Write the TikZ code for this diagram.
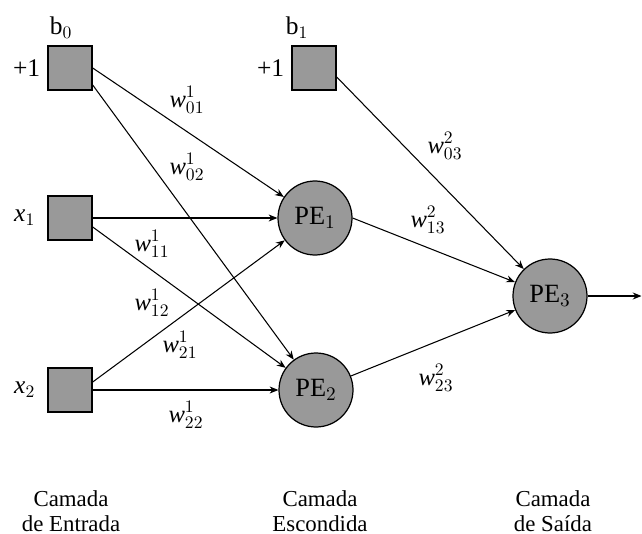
\documentclass[tikz,border=0pt]{standalone}
\usepackage{fontspec}
\setmainfont{Liberation Serif}
\usetikzlibrary{arrows.meta,positioning}
\tikzset{
  inblk/.style={draw,rectangle,minimum size=0.88cm,inner sep=0pt,fill=gray!80,line width=0.8pt},
  penode/.style={draw,circle,minimum size=1.48cm,inner sep=0pt,fill=gray!80,line width=0.7pt,font=\fontsize{15}{17}\selectfont},
  wire/.style={-{Stealth[length=5pt,width=4pt]},line width=0.6pt},
  lbl/.style={inner sep=1pt,font=\fontsize{14.5}{16}\selectfont},
  wlbl/.style={inner sep=1pt,font=\fontsize{14}{16}\selectfont},
  layer/.style={inner sep=0pt,align=center,font=\fontsize{13}{14.2}\selectfont}
}
\newcommand{\wgt}[2]{$\mathit{w}^{#1}_{#2}$}

\begin{document}
\begin{tikzpicture}
  \useasboundingbox (0,0) rectangle (12.84,-10.68);

  % entradas e bias
  \node[inblk] (b0) at (1.40,-1.36) {};
  \node[inblk] (x1) at (1.40,-4.36) {};
  \node[inblk] (x2) at (1.40,-7.80) {};
  \node[inblk] (b1) at (6.28,-1.36) {};

  % elementos de processamento
  \node[penode] (pe1) at (6.30,-4.36) {PE$_1$};
  \node[penode] (pe2) at (6.32,-7.80) {PE$_2$};
  \node[penode] (pe3) at (11.00,-5.92) {PE$_3$};
  \coordinate (out) at (12.83,-5.92);

  % rotulos das entradas
  \node[lbl, left=0.1cm of b0] (b0in) {+1};
  \node[lbl, above=0.1cm of b0, xshift=-0.18cm] (b0lbl) {b$_0$};
  \node[lbl, left=0.1cm of b1] (b1in) {+1};
  \node[lbl, above=0.1cm of b1, xshift=-0.34cm] (b1lbl) {b$_1$};
  \node[lbl, left=0.2cm of x1] (x1lbl) {$\mathit{x}_1$};
  \node[lbl, left=0.2cm of x2] (x2lbl) {$\mathit{x}_2$};

  % conexoes
  \draw[wire] (b0.east) -- (pe1);
  \draw[wire] ([yshift=-0.34cm]b0.east) -- (pe2);
  \draw[wire] (x1.east) -- (pe1);
  \draw[wire] ([yshift=-0.18cm]x1.east) -- (pe2);
  \draw[wire] ([yshift=0.16cm]x2.east) -- (pe1);
  \draw[wire] (x2.east) -- (pe2);
  \draw[wire] ([yshift=-0.18cm]b1.east) -- (pe3);
  \draw[wire] (pe1.east) -- (pe3);
  \draw[wire] (pe2) -- (pe3);
  \draw[wire] (pe3) -- (out);

  % pesos
  \node[wlbl] (w01) at (3.74,-2.00) {\wgt{1}{01}};
  \node[wlbl] (w02) at (3.74,-3.34) {\wgt{1}{02}};
  \node[wlbl] (w11) at (3.04,-4.88) {\wgt{1}{11}};
  \node[wlbl] (w12) at (3.04,-6.06) {\wgt{1}{12}};
  \node[wlbl] (w21) at (3.60,-6.90) {\wgt{1}{21}};
  \node[wlbl] (w22) at (3.72,-8.30) {\wgt{1}{22}};
  \node[wlbl] (w03) at (8.90,-2.92) {\wgt{2}{03}};
  \node[wlbl] (w13) at (8.56,-4.40) {\wgt{2}{13}};
  \node[wlbl] (w23) at (8.72,-7.56) {\wgt{2}{23}};

  % camadas
  \node[layer] (lin) at (1.42,-10.22) {Camada\\de Entrada};
  \node[layer] (lhid) at (6.40,-10.22) {Camada\\Escondida};
  \node[layer] (lout) at (11.06,-10.22) {Camada\\de Saída};
\end{tikzpicture}
\end{document}
